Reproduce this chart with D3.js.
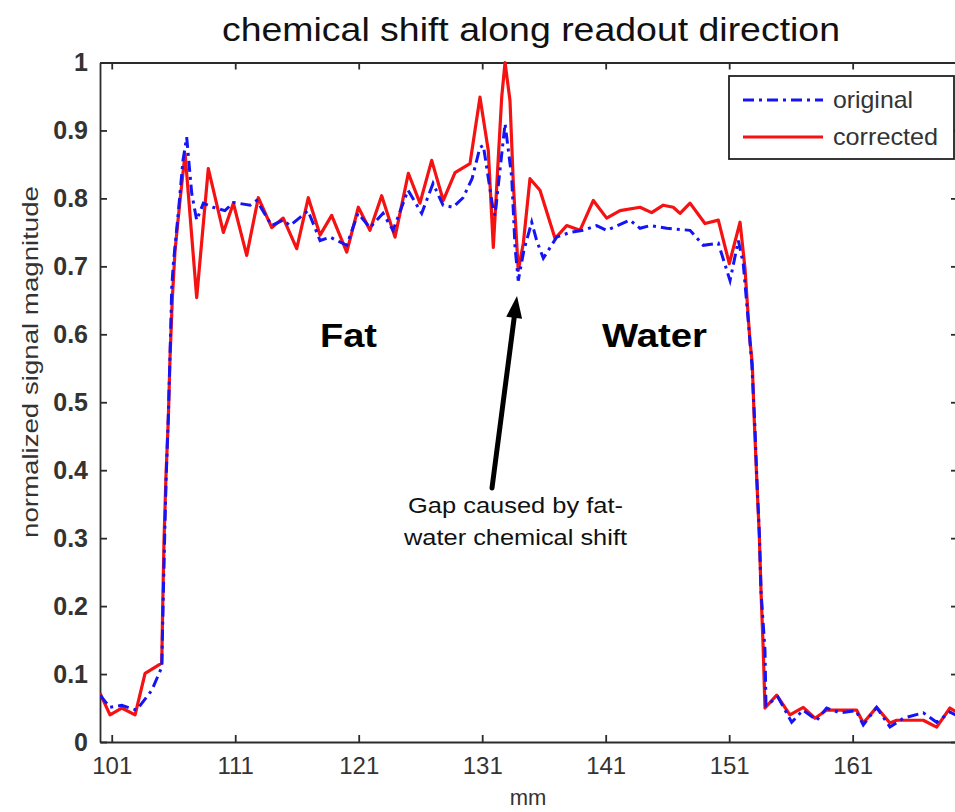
<!DOCTYPE html>
<html>
<head>
<meta charset="utf-8">
<script src="https://cdn.jsdelivr.net/npm/d3@7"></script>
<style>
  html, body { margin: 0; padding: 0; background: #fff; }
  svg { display: block; font-family: "Liberation Sans", Arial, sans-serif; }
</style>
</head>
<body>
<svg id="chart" width="955" height="812"></svg>
<script>
// Position along readout (mm) and normalized magnitude, original profile
const originalMm = [100.05,100.86,101.81,102.48,103.02,104.24,105.05,105.15,105.28,105.40,105.58,105.72,105.86,105.99,106.37,106.77,107.07,107.48,107.88,108.42,109.20,110.17,110.85,112.20,112.74,113.96,114.87,115.44,116.25,116.89,117.87,118.68,120.03,120.94,121.91,122.97,123.78,124.99,126.10,127.02,127.83,128.64,129.45,130.18,130.82,131.09,131.90,132.04,132.85,133.39,133.66,133.92,134.38,135.01,135.41,135.95,137.03,138.11,139.19,140.27,141.08,142.97,143.78,144.59,145.94,147.83,148.90,150.12,151.07,151.74,152.14,152.52,152.68,152.84,153.08,153.24,153.45,153.58,153.90,153.98,154.95,156.06,156.98,158.09,158.89,159.97,161.27,161.86,162.94,164.02,165.10,166.72,167.80,168.88,169.53];
const originalVal = [0.069,0.051,0.054,0.050,0.047,0.076,0.110,0.194,0.297,0.385,0.478,0.569,0.669,0.704,0.775,0.856,0.890,0.807,0.768,0.793,0.787,0.782,0.794,0.790,0.797,0.760,0.768,0.760,0.772,0.782,0.738,0.743,0.731,0.778,0.757,0.778,0.753,0.812,0.778,0.822,0.790,0.787,0.801,0.829,0.875,0.878,0.782,0.775,0.910,0.831,0.728,0.679,0.724,0.765,0.738,0.712,0.743,0.750,0.753,0.760,0.753,0.768,0.756,0.760,0.756,0.753,0.731,0.734,0.679,0.738,0.704,0.625,0.591,0.554,0.466,0.388,0.304,0.221,0.135,0.054,0.066,0.029,0.047,0.032,0.050,0.043,0.046,0.025,0.051,0.022,0.035,0.043,0.029,0.044,0.038];

// Corrected profile
const correctedMm = [100.05,100.86,101.81,102.89,103.70,105.05,105.13,105.23,105.39,105.58,105.72,105.91,106.13,106.53,106.94,107.88,108.82,110.04,110.85,111.93,112.87,113.96,114.89,115.98,116.92,117.87,118.81,120.03,120.97,121.91,122.86,123.94,125.02,125.96,126.91,127.85,128.80,130.01,130.82,131.49,131.90,132.58,132.85,133.25,133.52,133.92,134.33,134.87,135.68,136.90,137.84,138.92,140.00,141.08,142.16,143.78,144.72,145.66,146.47,147.02,147.83,149.04,150.12,151.01,151.88,152.28,152.55,152.68,152.87,153.03,153.23,153.44,153.58,153.76,153.90,154.85,155.92,157.00,157.95,158.89,161.32,161.86,162.94,164.02,164.56,166.72,167.80,168.88,169.53];
const correctedVal = [0.072,0.040,0.050,0.040,0.101,0.116,0.201,0.294,0.390,0.474,0.566,0.654,0.724,0.797,0.866,0.654,0.844,0.750,0.793,0.716,0.801,0.757,0.771,0.726,0.801,0.746,0.775,0.721,0.787,0.753,0.804,0.743,0.837,0.793,0.856,0.797,0.838,0.851,0.949,0.871,0.728,0.949,1.000,0.944,0.822,0.694,0.734,0.829,0.812,0.741,0.760,0.753,0.797,0.771,0.782,0.787,0.779,0.790,0.787,0.778,0.793,0.763,0.768,0.704,0.765,0.697,0.624,0.591,0.557,0.474,0.388,0.304,0.221,0.135,0.050,0.069,0.040,0.051,0.035,0.047,0.047,0.028,0.051,0.028,0.032,0.032,0.022,0.050,0.043];

const xTicks = [101, 111, 121, 131, 141, 151, 161];
const yTicks = [0, 0.1, 0.2, 0.3, 0.4, 0.5, 0.6, 0.7, 0.8, 0.9, 1];

const chartTitle = "chemical shift along readout direction";
const xLabel = "mm";
const yLabel = "normalized signal magnitude";
const seriesNames = ["original", "corrected"];

const svg = d3.select("#chart");
const plotLeft = 100, plotRight = 958, plotTop = 62.5, plotBottom = 742;

const x = d3.scaleLinear().domain([100.05, 169.53]).range([plotLeft, plotRight]);
const y = d3.scaleLinear().domain([0, 1]).range([plotBottom, plotTop]);

const axisColor = "#2b2b2b";
const labelColor = "#333";

// clip for the data lines
svg.append("defs").append("clipPath").attr("id", "plotClip")
  .append("rect").attr("x", plotLeft).attr("y", plotTop - 2)
  .attr("width", plotRight - plotLeft).attr("height", plotBottom - plotTop + 2);

// axes with inward ticks on all four sides
function styleAxis(g) {
  g.selectAll("path.domain").attr("stroke", axisColor).attr("stroke-width", 1.8);
  g.selectAll(".tick line").attr("stroke", axisColor).attr("stroke-width", 1.8);
}
svg.append("g").attr("transform", `translate(0,${plotBottom})`)
  .call(d3.axisBottom(x).tickValues(xTicks).tickSizeInner(-7).tickSizeOuter(0).tickPadding(15).tickFormat(d3.format("d")))
  .call(styleAxis)
  .call(g => g.selectAll(".tick text").attr("fill", labelColor)
    .style("font-size", "24px").style("font-family", "'Liberation Sans', Arial, sans-serif"));
svg.append("g").attr("transform", `translate(0,${plotTop})`)
  .call(d3.axisTop(x).tickValues(xTicks).tickSizeInner(-7).tickSizeOuter(0).tickFormat(""))
  .call(styleAxis);
svg.append("g").attr("transform", `translate(${plotLeft},0)`)
  .call(d3.axisLeft(y).tickValues(yTicks).tickSizeInner(-7).tickSizeOuter(0).tickPadding(12)
    .tickFormat(d => d === 0 || d === 1 ? d3.format("d")(d) : d3.format(".1f")(d)))
  .call(styleAxis)
  .call(g => g.selectAll(".tick text").attr("fill", labelColor)
    .style("font-size", "25px").style("font-weight", "bold").style("font-family", "'Liberation Sans', Arial, sans-serif"));
svg.append("g").attr("transform", `translate(${plotRight},0)`)
  .call(d3.axisRight(y).tickValues(yTicks).tickSizeInner(-7).tickSizeOuter(0).tickFormat(""))
  .call(styleAxis);

// data lines
const line = d3.line().x(d => x(d[0])).y(d => y(d[1]));
const plot = svg.append("g").attr("clip-path", "url(#plotClip)");
plot.append("path")
  .datum(correctedMm.map((m, i) => [m, correctedVal[i]]))
  .attr("d", line).attr("fill", "none")
  .attr("stroke", "#f51212").attr("stroke-width", 3.2).attr("stroke-linejoin", "round");
plot.append("path")
  .datum(originalMm.map((m, i) => [m, originalVal[i]]))
  .attr("d", line).attr("fill", "none")
  .attr("stroke", "#1414f5").attr("stroke-width", 3).attr("stroke-dasharray", "11,5,3,5");

// title and axis labels
svg.append("text").attr("x", 531).attr("y", 41).attr("text-anchor", "middle")
  .attr("fill", "#111").style("font-size", "33px")
  .attr("textLength", 618).attr("lengthAdjust", "spacingAndGlyphs").text(chartTitle);
svg.append("text").attr("x", 528).attr("y", 805).attr("text-anchor", "middle")
  .attr("fill", labelColor).style("font-size", "22px").text(xLabel);
svg.append("text").attr("transform", "translate(38,362) rotate(-90)").attr("text-anchor", "middle")
  .attr("fill", labelColor).style("font-size", "22px")
  .attr("textLength", 352).attr("lengthAdjust", "spacingAndGlyphs").text(yLabel);

// region labels
svg.append("text").attr("x", 320).attr("y", 347)
  .style("font-size", "33px").style("font-weight", "bold").attr("fill", "#000")
  .attr("textLength", 57).attr("lengthAdjust", "spacingAndGlyphs").text("Fat");
svg.append("text").attr("x", 602).attr("y", 347)
  .style("font-size", "33px").style("font-weight", "bold").attr("fill", "#000")
  .attr("textLength", 105).attr("lengthAdjust", "spacingAndGlyphs").text("Water");

// arrow pointing to the gap
const tail = [492, 488], tip = [517, 296];
const ang = Math.atan2(tip[1] - tail[1], tip[0] - tail[0]);
const headLen = 22, headW = 8;
const base = [tip[0] - headLen * Math.cos(ang), tip[1] - headLen * Math.sin(ang)];
svg.append("line").attr("x1", tail[0]).attr("y1", tail[1]).attr("x2", base[0]).attr("y2", base[1])
  .attr("stroke", "#000").attr("stroke-width", 5).attr("stroke-linecap", "round");
svg.append("path").attr("fill", "#000").attr("d",
  `M${tip[0]},${tip[1]} L${base[0] + headW * Math.sin(ang)},${base[1] - headW * Math.cos(ang)} L${base[0] - headW * Math.sin(ang)},${base[1] + headW * Math.cos(ang)} Z`);
const note = svg.append("text").style("font-size", "22px").attr("fill", "#111");
note.append("tspan").attr("x", 408).attr("y", 513)
  .attr("textLength", 215).attr("lengthAdjust", "spacingAndGlyphs").text("Gap caused by fat-");
note.append("tspan").attr("x", 404).attr("y", 545)
  .attr("textLength", 223).attr("lengthAdjust", "spacingAndGlyphs").text("water chemical shift");

// legend
const lg = svg.append("g");
lg.append("rect").attr("x", 729).attr("y", 76).attr("width", 225).attr("height", 83)
  .attr("fill", "#fff").attr("stroke", "#222").attr("stroke-width", 1.8);
const legendRows = [
  {name: seriesNames[0], color: "#1414f5", dash: "11,5,3,5", y: 100, w: 80},
  {name: seriesNames[1], color: "#f51212", dash: null, y: 137, w: 105}
];
legendRows.forEach(r => {
  lg.append("line").attr("x1", 743).attr("x2", 823).attr("y1", r.y).attr("y2", r.y)
    .attr("stroke", r.color).attr("stroke-width", 3).attr("stroke-dasharray", r.dash);
  lg.append("text").attr("x", 833).attr("y", r.y + 8).style("font-size", "24px")
    .attr("fill", labelColor).attr("textLength", r.w).attr("lengthAdjust", "spacingAndGlyphs").text(r.name);
});
</script>
</body>
</html>
